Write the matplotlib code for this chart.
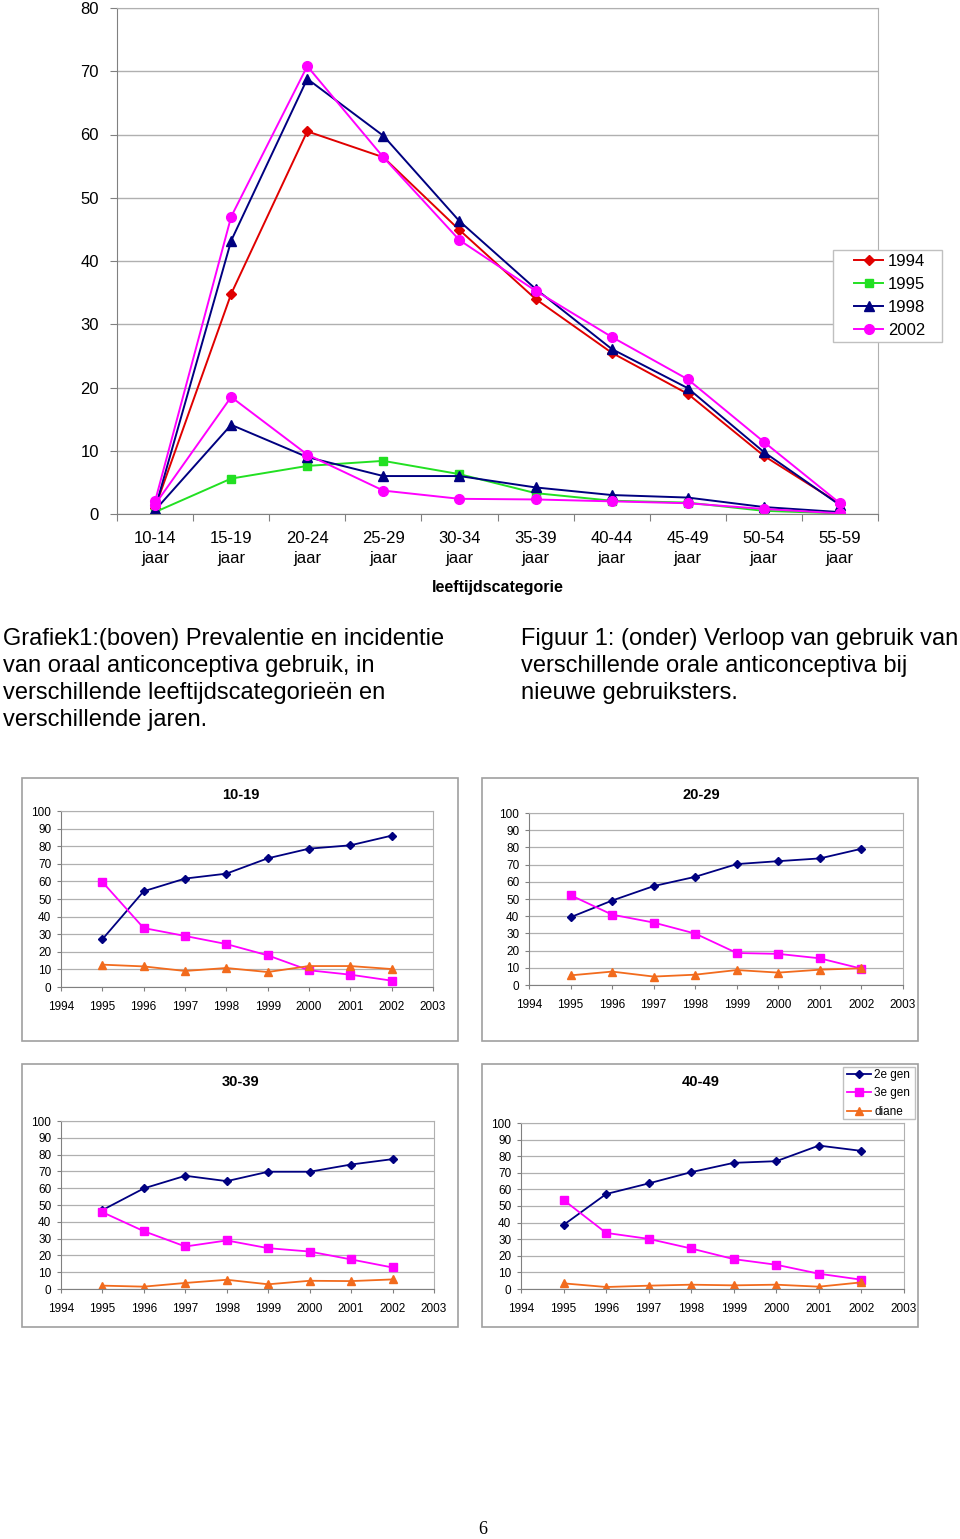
import matplotlib.pyplot as plt
from matplotlib.patches import Rectangle
from matplotlib.lines import Line2D

plt.rcParams['font.family'] = ['Liberation Sans', 'DejaVu Sans']

W, H = 960, 1539

# main chart data
age_groups = ['10-14\njaar', '15-19\njaar', '20-24\njaar', '25-29\njaar', '30-34\njaar',
              '35-39\njaar', '40-44\njaar', '45-49\njaar', '50-54\njaar', '55-59\njaar']
prev_1994 = [1.0, 34.8, 60.5, 56.4, 44.9, 34.0, 25.5, 19.0, 9.2, 1.6]
prev_1998 = [0.8, 43.2, 68.8, 59.8, 46.3, 35.6, 26.1, 19.9, 9.8, 1.4]
prev_2002 = [2.0, 47.0, 70.8, 56.4, 43.3, 35.3, 28.0, 21.3, 11.4, 1.7]
inc_1995 = [0.3, 5.6, 7.6, 8.4, 6.3, 3.3, 2.1, 1.8, 0.5, 0.1]
inc_1998 = [0.6, 14.1, 9.0, 6.0, 6.0, 4.2, 3.0, 2.6, 1.1, 0.3]
inc_2002 = [1.5, 18.5, 9.4, 3.7, 2.4, 2.3, 2.0, 1.7, 0.8, 0.1]

# small charts data
years = [1995, 1996, 1997, 1998, 1999, 2000, 2001, 2002]
gen2 = {
    '10-19': [27.1, 54.4, 61.6, 64.4, 73.1, 78.6, 80.5, 86.0],
    '20-29': [39.4, 49.1, 57.5, 62.9, 70.3, 72.0, 73.6, 79.2],
    '30-39': [47.0, 59.9, 67.4, 64.2, 69.8, 69.8, 74.1, 77.3],
    '40-49': [38.6, 57.2, 63.6, 70.4, 76.0, 77.0, 86.4, 83.2],
}
gen3 = {
    '10-19': [59.7, 33.5, 29.0, 24.4, 18.0, 9.5, 7.0, 3.6],
    '20-29': [52.2, 40.9, 36.3, 29.9, 18.6, 18.1, 15.5, 9.5],
    '30-39': [45.7, 34.4, 25.3, 28.9, 24.3, 22.3, 17.6, 12.8],
    '40-49': [53.6, 33.8, 30.2, 24.4, 18.0, 14.6, 9.2, 5.6],
}
diane = {
    '10-19': [12.7, 11.7, 9.1, 10.8, 8.5, 11.9, 11.9, 10.2],
    '20-29': [5.6, 7.8, 4.9, 6.0, 8.7, 7.2, 8.9, 9.7],
    '30-39': [2.0, 1.4, 3.6, 5.5, 2.8, 4.9, 4.7, 5.7],
    '40-49': [3.4, 1.2, 2.0, 2.6, 2.2, 2.6, 1.4, 4.0],
}

RED = '#e00000'
GREEN = '#22e022'
NAVY = '#000080'
MAG = '#ff00ff'
ORANGE = '#f26b1d'
GRID = '#b0b0b0'


def box(x0, y0, x1, y1):
    return [x0 / W, 1 - y1 / H, (x1 - x0) / W, (y1 - y0) / H]


def frame(x0, y0, x1, y1, color, lw=1.0, zorder=1):
    r = Rectangle((x0 / W, 1 - y1 / H), (x1 - x0) / W, (y1 - y0) / H,
                  transform=fig.transFigure, facecolor='white', edgecolor=color,
                  lw=lw, zorder=zorder)
    fig.add_artist(r)


fig = plt.figure(figsize=(W / 100, H / 100), dpi=100)

# ---- main chart ----
ax = fig.add_axes(box(117, 8, 878, 514))
x = range(len(age_groups))
ax.plot(x, prev_1994, color=RED, marker='D', ms=5, lw=1.4)
ax.plot(x, inc_1995, color=GREEN, marker='s', ms=6, lw=1.4)
ax.plot(x, prev_1998, color=NAVY, marker='^', ms=7, lw=1.4)
ax.plot(x, inc_1998, color=NAVY, marker='^', ms=7, lw=1.4)
ax.plot(x, prev_2002, color=MAG, marker='o', ms=7, lw=1.4)
ax.plot(x, inc_2002, color=MAG, marker='o', ms=7, lw=1.4)
ax.set_xlim(-0.5, len(age_groups) - 0.5)
ax.set_ylim(0, 80)
ax.set_yticks(range(0, 81, 10))
ax.set_xticks([i - 0.5 for i in range(len(age_groups) + 1)], minor=False)
ax.set_xticklabels([])
ax.set_xticks(list(x), minor=True)
ax.set_xticklabels(age_groups, minor=True, fontsize=12, linespacing=1.45)
ax.tick_params(axis='x', which='minor', length=0, pad=12)
ax.tick_params(axis='x', which='major', length=5, color='#808080')
ax.tick_params(axis='y', length=5, color='#808080', labelsize=12, pad=8)
ax.grid(axis='y', color=GRID, lw=1)
ax.set_axisbelow(True)
for s in ['top', 'right']:
    ax.spines[s].set_color(GRID)
for s in ['left', 'bottom']:
    ax.spines[s].set_color('#808080')
ax.set_xlabel('leeftijdscategorie', fontsize=11.5, fontweight='bold', labelpad=10)

handles = [
    Line2D([], [], color=RED, marker='D', ms=5, lw=1.4),
    Line2D([], [], color=GREEN, marker='s', ms=6, lw=1.4),
    Line2D([], [], color=NAVY, marker='^', ms=7, lw=1.4),
    Line2D([], [], color=MAG, marker='o', ms=7, lw=1.4),
]
frame(833, 250, 942, 342, '#c0c0c0', zorder=5)
leg = fig.legend(handles, ['1994', '1995', '1998', '2002'], loc='upper left',
                 bbox_to_anchor=(854 / W, 1 - 254 / H), fontsize=12,
                 frameon=False, handlelength=1.75, handletextpad=0.3,
                 borderpad=0.0, labelspacing=0.48, borderaxespad=0)
leg.set_zorder(6)

# ---- captions ----
fig.text(3 / W, 1 - 628 / H,
         'Grafiek1:(boven) Prevalentie en incidentie\n'
         'van oraal anticonceptiva gebruik, in\n'
         'verschillende leeftijdscategorieën en\n'
         'verschillende jaren.',
         fontsize=17, va='top', ha='left', linespacing=1.29)
fig.text(521 / W, 1 - 628 / H,
         'Figuur 1: (onder) Verloop van gebruik van\n'
         'verschillende orale anticonceptiva bij\n'
         'nieuwe gebruiksters.',
         fontsize=17, va='top', ha='left', linespacing=1.29)

# ---- small charts ----
panels = [
    ('10-19', (22, 778, 458, 1041), (61, 811, 433, 987), 795),
    ('20-29', (482, 778, 918, 1041), (529, 813, 903, 985), 795),
    ('30-39', (22, 1064, 458, 1327), (61, 1121, 434, 1289), 1082),
    ('40-49', (482, 1064, 918, 1327), (521, 1123, 904, 1289), 1082),
]
for name, fr, plot, ty in panels:
    fx0, fy0, fx1, fy1 = fr
    frame(fx0, fy0, fx1, fy1, '#a0a0a0', lw=1.2, zorder=0)
    fig.text(((fx0 + fx1) / 2 + 1) / W, 1 - ty / H, name, fontsize=10.5,
             fontweight='bold', ha='center', va='center')
    a = fig.add_axes(box(*plot))
    a.plot(years, gen2[name], color=NAVY, marker='D', ms=4, lw=1.3, label='2e gen')
    a.plot(years, gen3[name], color=MAG, marker='s', ms=6, lw=1.3, label='3e gen')
    a.plot(years, diane[name], color=ORANGE, marker='^', ms=6, lw=1.3, label='diane')
    a.set_xlim(1994, 2003)
    a.set_ylim(0, 100)
    a.set_xticks(range(1994, 2004))
    a.set_yticks(range(0, 101, 10))
    a.tick_params(labelsize=8.5, length=3, color='#808080')
    a.tick_params(axis='x', pad=7)
    a.tick_params(axis='y', pad=4)
    a.grid(axis='y', color=GRID, lw=0.9)
    a.set_axisbelow(True)
    for s in ['top', 'right']:
        a.spines[s].set_color(GRID)
    for s in ['left', 'bottom']:
        a.spines[s].set_color('#808080')
    if name == '40-49':
        frame(843, 1067, 915, 1119, '#c0c0c0', zorder=5)
        h, l = a.get_legend_handles_labels()
        lg = fig.legend(h, l, loc='upper left', bbox_to_anchor=(847 / W, 1 - 1069 / H),
                        fontsize=8.5, frameon=False, handlelength=2.0,
                        handletextpad=0.3, borderpad=0.0, labelspacing=0.55,
                        borderaxespad=0)
        lg.set_zorder(6)

fig.text(483 / W, 1 - 1530 / H, '6', fontsize=13, ha='center', va='center',
         family='Liberation Serif')

fig.savefig('out.png', dpi=100)
